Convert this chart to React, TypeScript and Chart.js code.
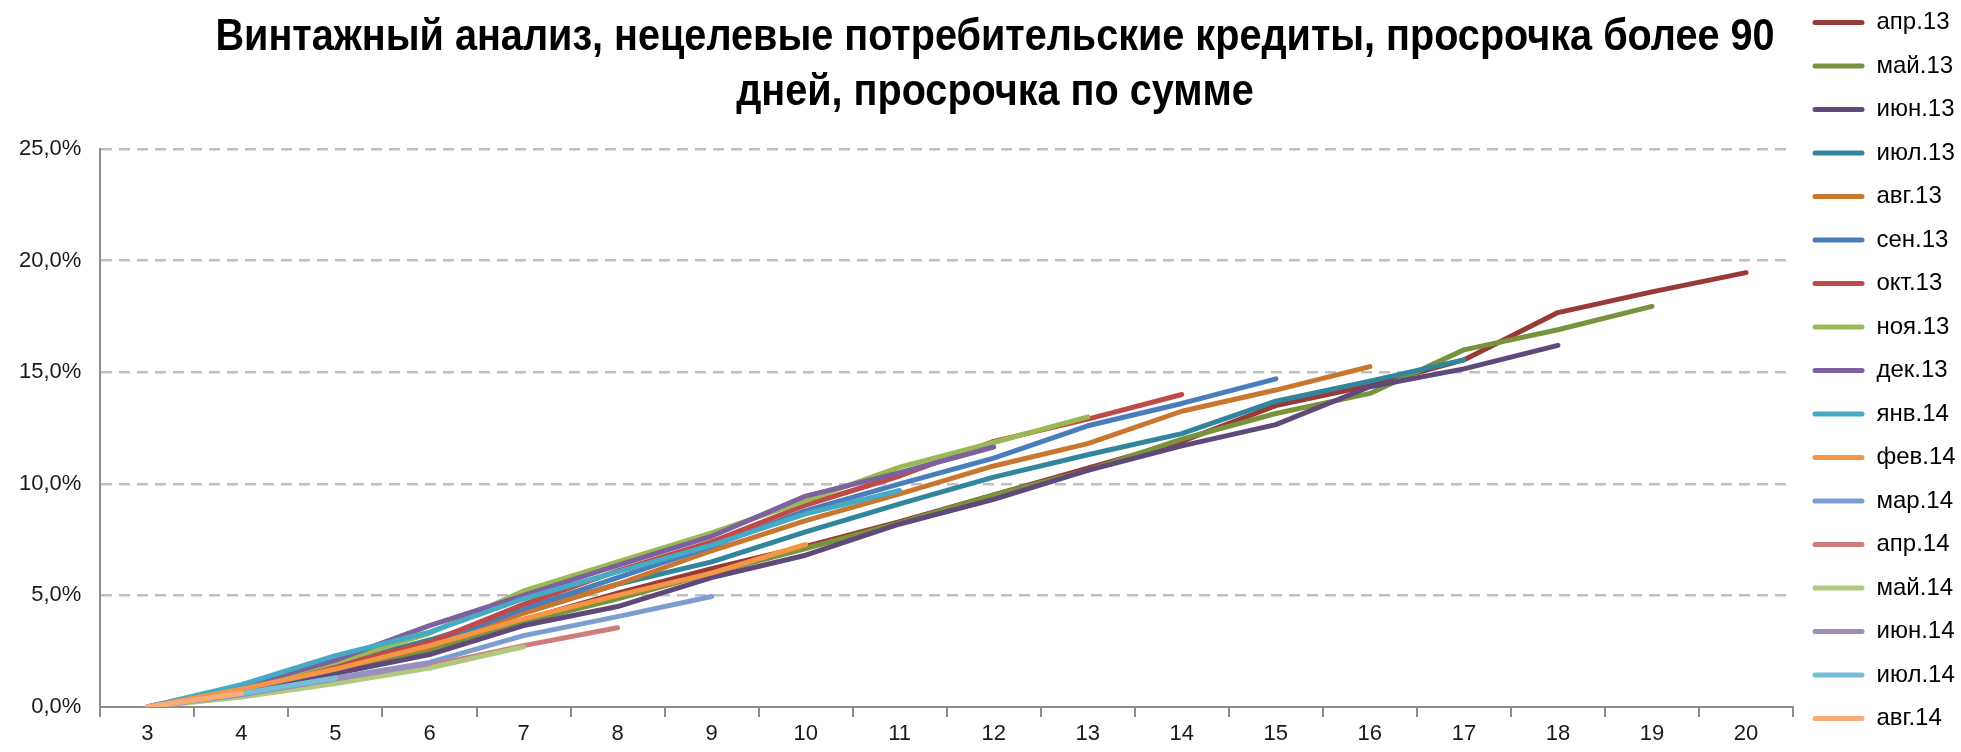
import React, { useEffect, useRef } from 'react';
import { Chart, registerables } from 'chart.js';

Chart.register(...registerables);

// Months on book (x categories)
const months = ['3', '4', '5', '6', '7', '8', '9', '10', '11', '12', '13', '14', '15', '16', '17', '18', '19', '20'];

const titleLines = [
  'Винтажный анализ, нецелевые потребительские кредиты, просрочка более 90',
  'дней, просрочка по сумме',
];

const seriesNames = [
  'апр.13', 'май.13', 'июн.13', 'июл.13', 'авг.13', 'сен.13', 'окт.13', 'ноя.13', 'дек.13',
  'янв.14', 'фев.14', 'мар.14', 'апр.14', 'май.14', 'июн.14', 'июл.14', 'авг.14',
];

const seriesColors = [
  '#983A37', '#77933C', '#5F497A', '#31859C', '#C9772F', '#4A7EBB', '#BE4B48', '#98B954', '#7D60A0',
  '#46AAC5', '#F59545', '#7B9DCF', '#CE7D7B', '#AFC97E', '#9E8CBA', '#77BDD5', '#F9AC78',
];

// Values in percent
const apr13 = [0, 0.75, 1.65, 2.6, 3.9, 5.1, 6.2, 7.2, 8.3, 9.5, 10.7, 11.9, 13.5, 14.4, 15.55, 17.67, 18.6, 19.46];
const may13 = [0, 0.8, 1.75, 2.55, 3.8, 4.85, 6.0, 7.1, 8.25, 9.5, 10.6, 12.0, 13.15, 14.05, 16.0, 16.9, 17.95];
const jun13 = [0, 0.65, 1.5, 2.35, 3.65, 4.5, 5.8, 6.8, 8.2, 9.3, 10.6, 11.7, 12.65, 14.35, 15.15, 16.2];
const jul13 = [0, 0.85, 1.9, 3.0, 4.3, 5.5, 6.5, 7.85, 9.1, 10.3, 11.3, 12.25, 13.7, 14.6, 15.55];
const aug13 = [0, 0.8, 1.8, 2.7, 4.2, 5.5, 7.0, 8.35, 9.55, 10.8, 11.8, 13.25, 14.2, 15.25];
const sep13 = [0, 0.75, 1.7, 2.8, 4.4, 5.8, 7.2, 8.8, 10.0, 11.15, 12.6, 13.6, 14.7];
const oct13 = [0, 0.8, 1.85, 2.9, 4.6, 6.1, 7.4, 9.05, 10.35, 11.9, 12.9, 14.0];
const nov13 = [0, 0.9, 2.0, 3.3, 5.2, 6.5, 7.8, 9.25, 10.75, 11.85, 13.0];
const dec13 = [0, 0.9, 2.1, 3.65, 5.0, 6.35, 7.65, 9.45, 10.5, 11.65];
const jan14 = [0, 1.0, 2.3, 3.35, 4.85, 6.05, 7.25, 8.65, 9.7];
const feb14 = [0, 0.8, 1.7, 2.75, 3.95, 5.0, 6.0, 7.28];
const mar14 = [0, 0.6, 1.3, 2.0, 3.2, 4.05, 4.95];
const apr14 = [0, 0.55, 1.2, 1.85, 2.75, 3.55];
const may14 = [0, 0.45, 1.05, 1.75, 2.7];
const jun14 = [0, 0.55, 1.25, 1.95];
const jul14 = [0, 0.6, 1.3];
const aug14 = [0, 0.62];

const seriesValues = [apr13, may13, jun13, jul13, aug13, sep13, oct13, nov13, dec13, jan14, feb14, mar14, apr14, may14, jun14, jul14, aug14];

const yMin = 0;
const yMax = 25;
const yStep = 5;

const TITLE_SIZE = 44;
const TITLE_LINE_HEIGHT = 1.25;
const TITLE_PAD_TOP = 20.5;
const TITLE_PAD_BOTTOM = 28.5;
const TITLE_FONT = "bold 44px 'Liberation Sans', Arial, sans-serif";
const TITLE_X_SCALE = 0.9; // narrow (condensed) look of the original title face
const TITLE_X_SHIFT = 14.5;

// Draws the title text in a condensed form in the space the built-in title reserves
const condensedTitle = {
  id: 'condensedTitle',
  afterDraw(chart: any) {
    const tb = chart.titleBlock;
    if (!tb) return;
    const ctx = chart.ctx as CanvasRenderingContext2D;
    const lh = TITLE_SIZE * TITLE_LINE_HEIGHT;
    const cx = chart.width / 2 + TITLE_X_SHIFT;
    ctx.save();
    ctx.font = TITLE_FONT;
    ctx.fillStyle = '#000000';
    ctx.textAlign = 'center';
    ctx.textBaseline = 'middle';
    titleLines.forEach((line, i) => {
      ctx.save();
      ctx.translate(cx, tb.top + TITLE_PAD_TOP + lh / 2 + i * lh);
      ctx.scale(TITLE_X_SCALE, 1);
      ctx.fillText(line, 0, 0);
      ctx.restore();
    });
    ctx.restore();
  },
};

export default function App() {
  const canvasRef = useRef<HTMLCanvasElement>(null);

  useEffect(() => {
    if (!canvasRef.current) return;
    const n = seriesNames.length;
    const tickFont = { family: "'Liberation Sans', Arial, sans-serif", size: 22 };
    const chart = new Chart(canvasRef.current, {
      type: 'line',
      data: {
        labels: months,
        datasets: seriesNames.map((name, i) => ({
          label: name,
          data: seriesValues[i],
          borderColor: seriesColors[i],
          backgroundColor: seriesColors[i],
          borderWidth: 5,
          pointRadius: 0,
          pointHoverRadius: 0,
          tension: 0,
          fill: false,
          borderCapStyle: 'round' as const,
          borderJoinStyle: 'round' as const,
          order: n - i,
        })),
      },
      plugins: [condensedTitle],
      options: {
        responsive: false,
        animation: false,
        layout: { padding: { top: 0, bottom: 1, left: 0, right: 0 } },
        plugins: {
          tooltip: { enabled: false },
          title: {
            display: true,
            text: titleLines,
            color: 'rgba(0,0,0,0)',
            font: {
              family: "'Liberation Sans', Arial, sans-serif",
              size: TITLE_SIZE,
              weight: 'bold',
              lineHeight: TITLE_LINE_HEIGHT,
            },
            padding: { top: TITLE_PAD_TOP, bottom: TITLE_PAD_BOTTOM },
          },
          legend: {
            display: true,
            position: 'right',
            align: 'center',
            maxWidth: 168,
            labels: {
              font: { family: "'Liberation Sans', Arial, sans-serif", size: 24 },
              color: '#000000',
              boxWidth: 52,
              boxHeight: 5,
              padding: 19.5,
              useBorderRadius: true,
              borderRadius: 2.5,
              sort: (a: any, b: any) => a.datasetIndex - b.datasetIndex,
              generateLabels: (c: any) => {
                const items = Chart.defaults.plugins.legend.labels.generateLabels(c);
                return items.map((it: any) => ({
                  ...it,
                  fillStyle: seriesColors[it.datasetIndex],
                  strokeStyle: seriesColors[it.datasetIndex],
                  lineWidth: 0,
                }));
              },
            },
          },
        },
        scales: {
          x: {
            type: 'category',
            offset: true,
            grid: {
              display: true,
              drawOnChartArea: false,
              drawTicks: true,
              tickLength: 10,
              color: '#8C8C8C',
              lineWidth: 2,
              offset: true,
            },
            border: { display: true, color: '#8C8C8C', width: 2 },
            ticks: {
              font: tickFont,
              color: '#1a1a1a',
              padding: 3.8,
              maxRotation: 0,
              autoSkip: false,
            },
          },
          y: {
            min: yMin,
            max: yMax,
            ticks: {
              stepSize: yStep,
              font: tickFont,
              color: '#1a1a1a',
              padding: 19,
              callback: (v: any) => Number(v).toFixed(1).replace('.', ',') + '%',
            },
            grid: {
              color: (ctx: any) => (ctx.tick && ctx.tick.value === 0 ? 'rgba(0,0,0,0)' : '#BFBFBF'),
              lineWidth: 2.5,
              drawTicks: false,
            },
            border: { display: true, color: '#8C8C8C', width: 2, dash: [11, 7] },
          },
        },
      },
    });
    return () => chart.destroy();
  }, []);

  return (
    <div style={{ position: 'absolute', left: 0, top: -10, width: 1961, height: 762 }}>
      <canvas ref={canvasRef} width={1961} height={762} style={{ display: 'block' }} />
    </div>
  );
}
